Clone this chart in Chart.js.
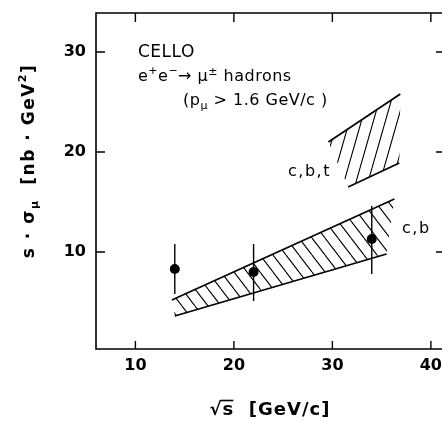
<!DOCTYPE html>
<html>
<head>
<meta charset="utf-8">
<script src="https://cdn.jsdelivr.net/npm/chart.js@4.4.0/dist/chart.umd.min.js"></script>
<style>
html, body { margin: 0; padding: 0; background: #fff; overflow: hidden; }
</style>
</head>
<body>
<canvas id="chart" width="442" height="422"></canvas>
<script>
// values
const energies = [14, 22, 34];
const sigma = [8.3, 8.0, 11.3];
const errUp = [2.5, 2.8, 3.3];
const errDown = [2.5, 2.9, 3.5];

// c,b band edges
const cbUpperX = [13.7, 36.3];
const cbUpperY = [5.2, 15.3];
const cbLowerX = [14.0, 35.5];
const cbLowerY = [3.6, 9.8];

// c,b,t band edges
const cbtUpperX = [29.6, 36.9];
const cbtUpperY = [21.0, 25.8];
const cbtLowerX = [31.6, 36.8];
const cbtLowerY = [16.5, 18.9];

const xTicks = [10, 20, 30, 40];
const yTicks = [10, 20, 30];

const FONT = '"DejaVu Sans", sans-serif';

function hatch(w, h, dir) {
    const c = document.createElement('canvas');
    c.width = w;
    c.height = h;
    const g = c.getContext('2d');
    g.strokeStyle = '#000';
    g.lineWidth = 1.1;
    g.beginPath();
    for (let k = -1; k <= 1; k++) {
        if (dir === '/') {
            g.moveTo(k * w, h);
            g.lineTo(k * w + w, 0);
        } else {
            g.moveTo(k * w, 0);
            g.lineTo(k * w + w, h);
        }
    }
    g.stroke();
    return g.createPattern(c, 'repeat');
}

function toPoints(xs, ys) {
    return xs.map((x, i) => ({ x: x, y: ys[i] }));
}

function bandShape(ux, uy, lx, ly) {
    const pts = toPoints(ux, uy);
    toPoints(lx, ly).reverse().forEach(p => pts.push(p));
    return pts;
}

function edge(xs, ys) {
    return {
        data: toPoints(xs, ys),
        borderColor: '#000',
        borderWidth: 1.7,
        pointRadius: 0,
        fill: false,
        showLine: true
    };
}

function drawRich(ctx, parts, x, y, align) {
    let total = 0;
    parts.forEach(p => { ctx.font = p.font; total += ctx.measureText(p.text).width; });
    let cx = align === 'center' ? x - total / 2 : x;
    const starts = [];
    parts.forEach(p => {
        ctx.font = p.font;
        starts.push(cx);
        ctx.fillText(p.text, cx, y + (p.dy || 0));
        cx += ctx.measureText(p.text).width;
    });
    starts.push(cx);
    return starts;
}

const f = (size, bold) => (bold ? 'bold ' : '') + size + 'px ' + FONT;

const errorBars = {
    id: 'errorBars',
    afterDatasetsDraw(chart) {
        const ctx = chart.ctx;
        const xs = chart.scales.x, ys = chart.scales.y;
        ctx.save();
        ctx.strokeStyle = '#000';
        ctx.lineWidth = 1.4;
        energies.forEach((e, i) => {
            const px = xs.getPixelForValue(e);
            ctx.beginPath();
            ctx.moveTo(px, ys.getPixelForValue(sigma[i] + errUp[i]));
            ctx.lineTo(px, ys.getPixelForValue(sigma[i] - errDown[i]));
            ctx.stroke();
        });
        ctx.restore();
    }
};

const frame = {
    id: 'frame',
    afterDraw(chart) {
        const ctx = chart.ctx;
        const a = chart.chartArea;
        const xs = chart.scales.x, ys = chart.scales.y;
        ctx.save();
        ctx.strokeStyle = '#000';
        ctx.lineWidth = 1.6;
        // right spine lies just outside the picture
        ctx.beginPath();
        ctx.moveTo(a.right + 2, a.top);
        ctx.lineTo(a.left, a.top);
        ctx.lineTo(a.left, a.bottom);
        ctx.lineTo(a.right + 2, a.bottom);
        ctx.stroke();
        ctx.lineWidth = 1.4;
        ctx.beginPath();
        xTicks.forEach(v => {
            const px = xs.getPixelForValue(v);
            ctx.moveTo(px, a.bottom); ctx.lineTo(px, a.bottom - 8);
            ctx.moveTo(px, a.top); ctx.lineTo(px, a.top + 9);
        });
        yTicks.forEach(v => {
            const py = ys.getPixelForValue(v);
            ctx.moveTo(a.left, py); ctx.lineTo(a.left + 9, py);
            ctx.moveTo(a.right + 2, py); ctx.lineTo(a.right - 6, py);
        });
        ctx.stroke();

        ctx.fillStyle = '#000';
        ctx.textBaseline = 'alphabetic';
        ctx.textAlign = 'left';

        // annotations
        ctx.letterSpacing = '0.5px';
        drawRich(ctx, [{ text: 'CELLO', font: f(17) }], 138, 57);
        drawRich(ctx, [
            { text: 'e', font: f(16) },
            { text: '+', font: f(11), dy: -7 },
            { text: 'e', font: f(16) },
            { text: '\u2212', font: f(11), dy: -7 },
            { text: '\u2192', font: f(16) },
            { text: ' \u03bc', font: f(16) },
            { text: '\u00b1', font: f(11), dy: -6 },
            { text: ' hadrons', font: f(16) }
        ], 138, 81);
        drawRich(ctx, [
            { text: '(p', font: f(16) },
            { text: '\u03bc', font: f(11), dy: 4 },
            { text: ' > 1.6 GeV/c )', font: f(16) }
        ], 183, 105);
        ctx.letterSpacing = '1.5px';
        drawRich(ctx, [{ text: 'c,b,t', font: f(16) }], 288, 176);
        drawRich(ctx, [{ text: 'c,b', font: f(16) }], 402, 233);

        // axis titles
        ctx.letterSpacing = '1px';
        const xs0 = drawRich(ctx, [
            { text: '\u221a', font: f(18, true) },
            { text: 's', font: f(18, true) },
            { text: '  [GeV/c]', font: f(18, true) }
        ], 270, 415, 'center');
        ctx.lineWidth = 1.6;
        ctx.beginPath();
        ctx.moveTo(xs0[1] - 2, 400.5);
        ctx.lineTo(xs0[2] - 1, 400.5);
        ctx.stroke();

        ctx.translate(34, 161);
        ctx.rotate(-Math.PI / 2);
        ctx.letterSpacing = '1.5px';
        drawRich(ctx, [
            { text: 's \u00b7 \u03c3', font: f(17, true) },
            { text: '\u03bc', font: f(11, true), dy: 4 },
            { text: '  [nb \u00b7 GeV', font: f(17, true) },
            { text: '2', font: f(11, true), dy: -8 },
            { text: ']', font: f(17, true) }
        ], 0, 0, 'center');
        ctx.restore();
    }
};

window.onload = function() {
    const ctx = document.getElementById('chart').getContext('2d');
    const datasets = [
        {
            data: bandShape(cbUpperX, cbUpperY, cbLowerX, cbLowerY),
            backgroundColor: hatch(13, 17, '\\'),
            borderWidth: 0,
            pointRadius: 0,
            fill: 'shape',
            showLine: true
        },
        {
            data: bandShape(cbtUpperX, cbtUpperY, cbtLowerX, cbtLowerY),
            backgroundColor: hatch(12, 42, '/'),
            borderWidth: 0,
            pointRadius: 0,
            fill: 'shape',
            showLine: true
        },
        edge(cbUpperX, cbUpperY),
        edge(cbLowerX, cbLowerY),
        edge(cbtUpperX, cbtUpperY),
        edge(cbtLowerX, cbtLowerY),
        {
            data: toPoints(energies, sigma),
            showLine: false,
            pointRadius: 5,
            pointBackgroundColor: '#000',
            pointBorderWidth: 0,
            fill: false
        }
    ];

    window.chart = new Chart(ctx, {
        type: 'line',
        data: { datasets: datasets },
        options: {
            responsive: false,
            animation: false,
            devicePixelRatio: 1,
            layout: { autoPadding: false, padding: { top: 13, right: 0, left: 0, bottom: 0 } },
            plugins: { legend: { display: false }, tooltip: { enabled: false } },
            scales: {
                x: {
                    type: 'linear',
                    min: 6,
                    max: 41.13,
                    grid: { display: false, drawTicks: false },
                    border: { display: false },
                    ticks: { padding: 7, color: '#000', font: { family: FONT, size: 16, weight: 'bold' } },
                    afterBuildTicks: s => { s.ticks = xTicks.map(v => ({ value: v })); },
                    afterFit: s => { s.height = 73; s.paddingLeft = 0; s.paddingRight = 0; }
                },
                y: {
                    type: 'linear',
                    min: 0.3,
                    max: 33.9,
                    grid: { display: false, drawTicks: false },
                    border: { display: false },
                    ticks: { padding: 10, color: '#000', font: { family: FONT, size: 16, weight: 'bold' } },
                    afterBuildTicks: s => { s.ticks = yTicks.map(v => ({ value: v })); },
                    afterFit: s => { s.width = 96; s.paddingTop = 0; s.paddingBottom = 0; }
                }
            }
        },
        plugins: [errorBars, frame]
    });
};
</script>
</body>
</html>
